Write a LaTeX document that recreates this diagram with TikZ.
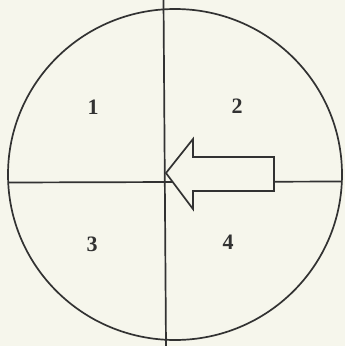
\documentclass[tikz,border=0pt]{standalone}
\usepackage{fontspec}
\setmainfont{Liberation Serif}
\definecolor{paper}{RGB}{246,246,236}
\definecolor{ink}{RGB}{50,50,50}
\newcommand{\quadfont}{\fontsize{22}{22}\selectfont\bfseries}
\begin{document}
\begin{tikzpicture}[x=1pt,y=-1pt,
  lineink/.style={draw=ink,line width=1.7pt},
  quadlabel/.style={text=ink,inner sep=0pt}]
\fill[paper] (0,0) rectangle (345,346);
\useasboundingbox (0,0) rectangle (345,346);
% circle
\draw[lineink] (175,174.5) ellipse [x radius=167, y radius=165.5];
% axes
\coordinate (vtop) at (163.5,0);
\coordinate (vbot) at (166,346);
\coordinate (hleft) at (8,182.5);
\coordinate (hright) at (342,181.5);
\draw[lineink] (vtop) -- (vbot);
\draw[lineink] (hleft) -- (hright);
% arrow
\draw[lineink,fill=paper,line join=miter]
  (166,173) -- (193,139) -- (193,157) -- (274,157) -- (274,191)
  -- (193,191) -- (193,209) -- cycle;
% labels
\node[quadlabel] (q1) at (93,107) {\quadfont 1};
\node[quadlabel] (q2) at (237,106) {\quadfont 2};
\node[quadlabel] (q3) at (92,244) {\quadfont 3};
\node[quadlabel] (q4) at (228,242) {\quadfont 4};
\end{tikzpicture}
\end{document}
